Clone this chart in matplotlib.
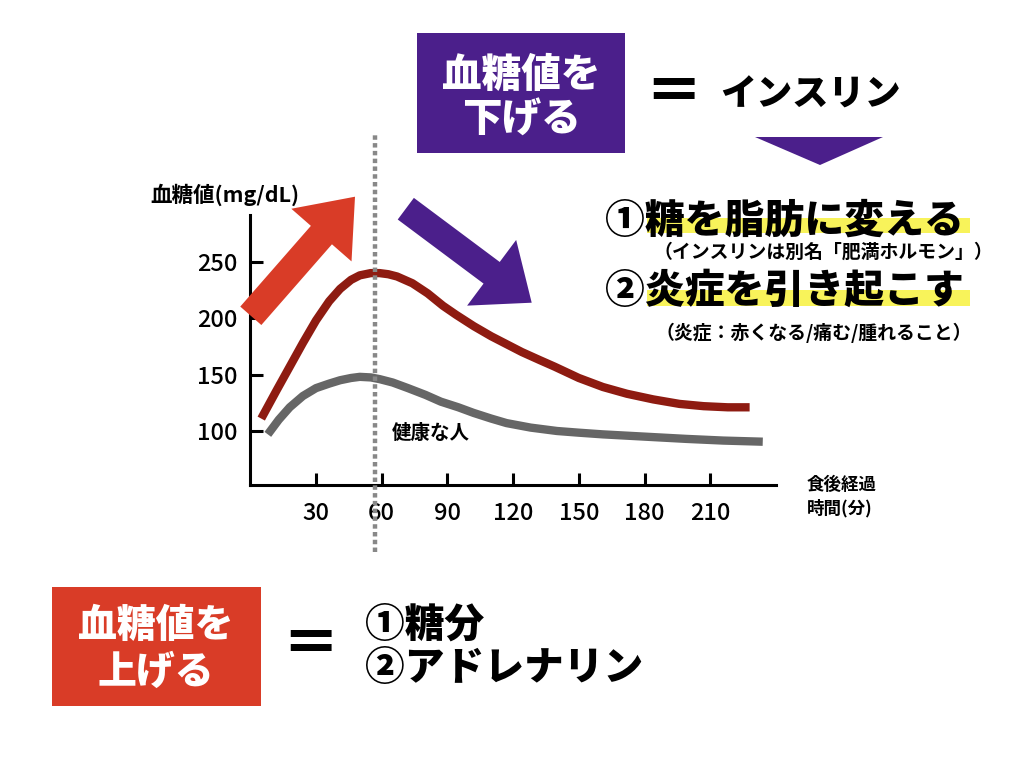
import matplotlib
matplotlib.use('Agg')
import matplotlib.pyplot as plt
from matplotlib.patches import Rectangle, Polygon, FancyArrow

plt.rcParams['font.family'] = ['Noto Sans CJK JP', 'DejaVu Sans']

# blood sugar after a meal (mg/dL)
red_t = [5, 12, 18, 24, 30, 36, 41, 46, 50, 55, 59, 63, 67, 74, 81, 88, 94, 102, 110, 117, 124, 132, 139, 150, 161, 172, 184, 196, 207, 218, 228]
red_v = [111, 136, 157, 178, 198, 215, 226, 234, 238, 240, 240, 239, 237, 231, 222, 211, 203, 193, 184, 177, 170, 163, 157, 147, 139, 133, 128, 124, 122, 121, 121]
gray_t = [8, 13, 18, 24, 30, 36, 41, 46, 50, 55, 59, 65, 72, 80, 87, 95, 102, 110, 117, 128, 140, 150, 161, 180, 199, 216, 234]
gray_v = [97, 110, 121, 131, 138, 142, 145, 147, 148, 147.5, 146, 143, 138, 132, 126, 121, 116, 111, 107, 103, 100, 98.5, 97, 95, 93, 91.5, 90.5]
x_ticks = [30, 60, 90, 120, 150, 180, 210]
y_ticks = [100, 150, 200, 250]
peak_marker = 57

RED = '#d93c27'
PURPLE = '#4b1f8b'
YELLOW = '#f8f35a'

fig = plt.figure(figsize=(10.24, 7.69), dpi=100)
ax = fig.add_axes([250.3 / 1024, 0.3693, 525.6 / 1024, 0.3511], zorder=1)
ax.patch.set_alpha(0)

ax.plot(red_t, red_v, color='#8e1b11', lw=6, solid_capstyle='butt', solid_joinstyle='round')
ax.plot(gray_t, gray_v, color='#666666', lw=6, solid_capstyle='butt', solid_joinstyle='round')
ax.axvline(peak_marker, ymin=-0.248, ymax=1.296, clip_on=False, color='#888888',
           lw=3.2, linestyle=(0, (1, 0.75)), zorder=5)

ax.set_xlim(0, 240)
ax.set_ylim(52.1, 291.5)
ax.set_xticks(x_ticks)
ax.set_yticks(y_ticks)
for s in ['top', 'right']:
    ax.spines[s].set_visible(False)
for s in ['left', 'bottom']:
    ax.spines[s].set_linewidth(2.2)
ax.tick_params(direction='in', length=9, width=2.2, labelsize=17)
ax.tick_params(axis='y', pad=9)
ax.tick_params(axis='x', pad=12)
plt.setp(ax.get_xticklabels() + ax.get_yticklabels(), fontweight='medium')
ax.text(64.7, 98, '健康な人', fontsize=14, fontweight='bold', va='center', ha='left')

# decorations in pixel coordinates
ov = fig.add_axes([0, 0, 1, 1], zorder=5)
ov.set_xlim(0, 1024)
ov.set_ylim(769, 0)
ov.axis('off')

ov.text(150, 195, '血糖値(mg/dL)', fontsize=15.5, fontweight='bold', va='center', ha='left')
ov.text(807, 485, '食後経過', fontsize=12.6, fontweight='bold', va='center', ha='left')
ov.text(807, 508, '時間(分)', fontsize=12.6, fontweight='bold', va='center', ha='left')

ov.add_patch(FancyArrow(250.8, 315.8, 104.2, -119.1, width=28, head_width=80, head_length=51,
                        length_includes_head=True, color=RED, lw=0))
ov.add_patch(FancyArrow(405.8, 208.7, 125.9, 94, width=27, head_width=82, head_length=50,
                        length_includes_head=True, color=PURPLE, lw=0))

# top: lowering blood sugar
ov.add_patch(Rectangle((417, 33), 208, 120, color=PURPLE, lw=0))
ov.text(521, 75, '血糖値を', fontsize=28.5, fontweight='heavy', color='white', ha='center', va='center')
ov.text(521, 120, '下げる', fontsize=28.5, fontweight='heavy', color='white', ha='center', va='center')
ov.text(673, 95, '＝', fontsize=42, fontweight='heavy', ha='center', va='center')
ov.text(720, 95, 'インスリン', fontsize=26, fontweight='heavy', ha='left', va='center')
ov.add_patch(Polygon([(755, 137), (883, 137), (820, 165)], closed=True, color=PURPLE, lw=0))

ov.add_patch(Rectangle((647, 218), 323, 15, color=YELLOW, lw=0))
ov.add_patch(Rectangle((647, 290), 323, 16, color=YELLOW, lw=0))
ov.text(605, 221, '①糖を脂肪に変える', fontsize=28.7, fontweight='heavy', ha='left', va='center')
ov.text(653, 252, '（インスリンは別名「肥満ホルモン」）', fontsize=13.6, fontweight='bold', ha='left', va='center')
ov.text(605, 291, '②炎症を引き起こす', fontsize=28.7, fontweight='heavy', ha='left', va='center')
ov.text(655, 333, '（炎症：赤くなる/痛む/腫れること）', fontsize=13.6, fontweight='bold', ha='left', va='center')

# bottom: raising blood sugar
ov.add_patch(Rectangle((52, 587), 209, 119, color=RED, lw=0))
ov.text(156, 625, '血糖値を', fontsize=28, fontweight='heavy', color='white', ha='center', va='center')
ov.text(156, 672, '上げる', fontsize=28, fontweight='heavy', color='white', ha='center', va='center')
ov.text(310, 647, '＝', fontsize=42, fontweight='heavy', ha='center', va='center')
ov.text(365, 625, '①糖分', fontsize=28.6, fontweight='heavy', ha='left', va='center')
ov.text(365, 668, '②アドレナリン', fontsize=28.6, fontweight='heavy', ha='left', va='center')

fig.savefig('out.png', dpi=100)
